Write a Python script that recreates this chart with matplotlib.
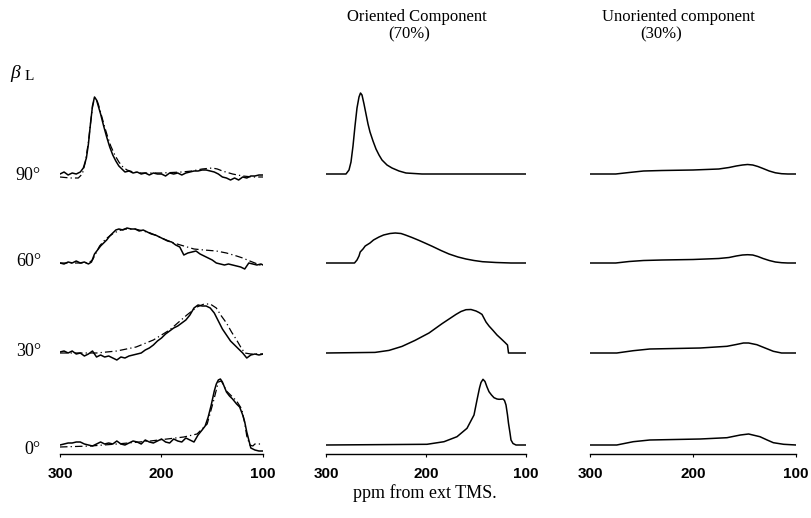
import matplotlib.pyplot as plt

# row labels (tilt angle beta_L)
angles = ["90°", "60°", "30°", "0°"]
tick_vals = [300, 200, 100]

# ---- left column: experimental (solid) and simulated (dash-dot) ----
exp90_ppm = [300, 296, 292, 288, 284, 280, 277, 274, 272, 270, 268, 266, 264, 262, 260,
             257, 254, 251, 248, 245, 242, 239, 236, 232, 228, 224, 220, 216, 212, 208,
             204, 200, 196, 192, 188, 184, 180, 176, 172, 168, 164, 160, 156, 152, 148,
             144, 140, 136, 132, 128, 124, 120, 116, 112, 108, 104, 100]
exp90_h = [0, 2, -1, 1, 0, 2, 6, 16, 30, 50, 68, 77, 74, 67, 60,
           48, 37, 27, 19, 13, 8, 5, 2, 3, 1, 2, 0, 1, -1, 1,
           0, 0, -2, 1, 0, 1, -1, 1, 2, 3, 3, 4, 4, 3, 2,
           0, -3, -4, -6, -4, -6, -3, -4, -2, -2, -1, -1]
sim90_ppm = [300, 290, 282, 278, 275, 272, 270, 268, 266, 264, 262, 259, 256, 253, 250,
             246, 242, 238, 234, 228, 220, 200, 180, 170, 160, 150, 145, 140, 130, 120, 110, 100]
sim90_h = [-3, -4, -4, 0, 12, 32, 50, 67, 76, 75, 69, 58, 47, 37, 28,
           19, 12, 7, 4, 2, 1, 1, 2, 3, 5, 6, 5, 3, 0, -2, -3, -3]

exp60_ppm = [300, 296, 292, 288, 284, 280, 276, 272, 269, 266, 263, 260, 257, 254, 251,
             248, 245, 242, 238, 234, 230, 226, 222, 218, 214, 210, 206, 202, 198, 194,
             190, 186, 182, 178, 174, 170, 166, 162, 158, 154, 150, 146, 142, 138, 134,
             130, 126, 122, 118, 114, 110, 106, 102, 100]
exp60_h = [0, -1, 1, 0, 2, 0, 1, -1, 1, 9, 13, 17, 20, 23, 27,
           30, 33, 34, 33, 35, 34, 34, 32, 33, 31, 29, 28, 26, 24, 22,
           21, 18, 16, 8, 10, 11, 12, 9, 7, 5, 3, 0, -1, -2, -1,
           -2, -3, -4, -6, 0, -1, -2, -1, -2]
sim60_ppm = [300, 280, 272, 268, 265, 261, 255, 247, 240, 236, 226, 218, 211, 200, 188,
             178, 168, 158, 146, 136, 126, 120, 113, 108, 103, 100]
sim60_h = [0, 0, 0, 3, 9, 17, 24, 30, 33, 34, 34, 32, 30, 25, 20,
           17, 14, 13, 12, 10, 7, 5, 2, 0, -2, -2]

exp30_ppm = [300, 296, 292, 288, 284, 280, 276, 272, 268, 264, 260, 256, 252, 248, 244,
             240, 236, 232, 228, 224, 220, 216, 212, 208, 204, 200, 196, 192, 188, 184,
             180, 176, 172, 168, 164, 160, 156, 152, 148, 144, 140, 136, 132, 128, 124,
             120, 116, 112, 108, 104, 100]
exp30_h = [1, 2, 0, 2, -1, 0, -3, -1, 2, -4, -2, -4, -3, -5, -7,
           -4, -5, -3, -2, -1, 0, 3, 5, 8, 12, 15, 19, 22, 25, 27,
           30, 33, 38, 45, 48, 47, 47, 45, 40, 32, 24, 18, 12, 8, 4,
           0, -5, -2, -1, -2, -1]
sim30_ppm = [300, 280, 264, 244, 225, 208, 192, 175, 165, 158, 152, 146, 141, 136, 131,
             126, 122, 118, 112, 106, 100]
sim30_h = [0, 0, 0, 2, 6, 13, 23, 38, 46, 49, 49, 45, 37, 30, 21,
           13, 6, 0, -1, -1, -1]

exp0_ppm = [300, 296, 292, 288, 284, 280, 276, 272, 268, 264, 260, 256, 252, 248, 244,
            240, 236, 232, 228, 224, 220, 216, 212, 208, 204, 200, 196, 192, 188, 184,
            180, 176, 172, 168, 164, 160, 157, 154, 151, 148, 146, 144, 142, 140, 138,
            136, 133, 130, 126, 123, 120, 118, 116, 114, 112, 108, 104, 100]
exp0_h = [0, 1, 2, 2, 3, 3, 1, 0, -1, 1, 3, 1, 2, 1, 4,
          1, 0, 2, 4, 3, 1, 5, 3, 2, 4, 6, 3, 2, 6, 4,
          3, 7, 5, 3, 10, 15, 19, 28, 40, 54, 61, 65, 66, 63, 58,
          53, 49, 46, 41, 38, 30, 23, 13, 5, -3, -5, -6, -6]
sim0_ppm = [300, 270, 244, 211, 178, 165, 155, 149, 144, 141, 136, 131, 126, 121, 118,
            116, 113, 110, 108, 104, 100]
sim0_h = [-2, -1, 1, 4, 8, 11, 21, 43, 63, 64, 54, 49, 44, 36, 22,
          9, 0, -1, 1, 1, 1]

# ---- middle column: oriented component (70%) ----
ori90_ppm = [300, 280, 277, 275, 273, 271, 269, 267, 265.5, 264, 262, 260, 258, 256, 253,
             250, 247, 244, 239, 234, 227, 220, 212, 204, 100]
ori90_h = [0, 0, 4, 12, 28, 48, 66, 77, 81, 79, 70, 60, 50, 42, 33,
           25, 19, 14, 9, 6, 3, 1, 0.5, 0, 0]
ori60_ppm = [300, 271.5, 269, 267, 265.8, 263, 260.8, 256, 252.5, 247, 242.4, 236, 230.7, 225,
             220.6, 214, 207, 200, 193.8, 185, 177, 168, 160, 152, 143.5, 130, 115, 100]
ori60_h = [0, 0, 3, 7, 11, 14, 17, 20, 23, 26, 28, 29.5, 30, 29.5,
           28, 25.5, 22.6, 19.5, 16.7, 12.5, 9, 6, 4, 2.5, 1.3, 0.5, 0, 0]
ori30_ppm = [300, 251, 237, 224, 211, 197, 184, 170, 165, 160, 155, 150, 147, 144, 140,
             137, 133, 129, 125, 121, 118.5, 117.5, 100]
ori30_h = [0, 0.6, 2.6, 6.6, 12.6, 20, 29.3, 38.6, 41.5, 43.3, 43.5, 42, 40.5, 38.6, 31,
           27, 22.6, 18, 14.3, 10.5, 8, 0, 0]
ori0_ppm = [300, 199, 182, 169, 159, 152, 149, 146.5, 145, 143, 141, 139, 137, 134.5, 132,
            129, 127, 125, 123, 121.5, 120, 118.5, 117.5, 116, 115, 113, 110, 100]
ori0_h = [0, 0.7, 3.3, 8.3, 16.7, 30, 45, 57, 62.5, 65.7, 63.5, 58, 53.3, 50, 47.3,
          46, 45.7, 45.8, 46, 44.5, 40, 30, 21.7, 12, 5, 1.5, 0, 0]

# ---- right column: unoriented component (30%) ----
uno_ppm = [300, 275, 262, 248, 230, 200, 175, 165, 158, 152, 147, 142, 137, 132, 126,
           120, 114, 108, 100]
uno90_h = [0, 0, 1.5, 3, 3.5, 4, 5, 6.5, 8, 9, 9.5, 9, 7.5, 5.5, 3, 1.2, 0.3, 0, 0]
uno60_h = [0, 0, 1.5, 2.5, 3, 3.5, 4.5, 5.5, 7, 8, 8.3, 8, 6.5, 4.5, 2.5, 1, 0.3, 0, 0]
uno30_ppm = [300, 274, 258, 242, 193, 167, 158, 151, 146, 138, 130, 122, 114, 100]
uno30_h = [0, 0, 2.3, 4, 5, 6.7, 8.5, 10, 10, 8.3, 5, 1.7, 0, 0]
uno0_ppm = [300, 274, 258, 242, 193, 167, 154, 146, 135, 128, 122, 112, 100]
uno0_h = [0, 0, 3.3, 5, 6, 7.3, 10, 11, 8.3, 5, 2.3, 0.7, 0]

W, H = 812, 518
fig = plt.figure(figsize=(W / 100, H / 100), dpi=100)

axis_y, top_y = 454, 40
offsets = [280, 191, 101, 9]  # baseline of each row above the axis line
serif = "Liberation Serif"


def col_axes(x0, x1):
    ax = fig.add_axes([x0 / W, 1 - axis_y / H, (x1 - x0) / W, (axis_y - top_y) / H])
    ax.set_xlim(300, 100)
    ax.set_ylim(0, axis_y - top_y)
    for s in ["top", "left", "right"]:
        ax.spines[s].set_visible(False)
    ax.spines["bottom"].set_linewidth(1.0)
    ax.set_yticks([])
    ax.set_xticks(tick_vals)
    ax.set_xticklabels([str(t) for t in tick_vals], fontfamily="Liberation Sans",
                       fontweight="bold", fontsize=11)
    ax.tick_params(axis="x", length=2, width=0.8, pad=7)
    ax.patch.set_alpha(0)
    return ax


ax_l = col_axes(60, 263)
ax_m = col_axes(326, 526)
ax_r = col_axes(590, 796)

exp_rows = [(exp90_ppm, exp90_h), (exp60_ppm, exp60_h), (exp30_ppm, exp30_h), (exp0_ppm, exp0_h)]
sim_rows = [(sim90_ppm, sim90_h), (sim60_ppm, sim60_h), (sim30_ppm, sim30_h), (sim0_ppm, sim0_h)]
ori_rows = [(ori90_ppm, ori90_h), (ori60_ppm, ori60_h), (ori30_ppm, ori30_h), (ori0_ppm, ori0_h)]
uno_rows = [(uno_ppm, uno90_h), (uno_ppm, uno60_h), (uno30_ppm, uno30_h), (uno0_ppm, uno0_h)]

for i, off in enumerate(offsets):
    p, h = exp_rows[i]
    ax_l.plot(p, [v + off for v in h], color="black", lw=1.1)
    p, h = sim_rows[i]
    ax_l.plot(p, [v + off for v in h], color="black", lw=0.9, linestyle=(0, (6, 2.5, 1, 2.5)))
    p, h = ori_rows[i]
    ax_m.plot(p, [v + off for v in h], color="black", lw=1.1)
    p, h = uno_rows[i]
    ax_r.plot(p, [v + off for v in h], color="black", lw=1.1)

# row labels
for lab, yp in zip(angles, [175, 262, 352, 449]):
    fig.text(41 / W, 1 - yp / H, lab, ha="right", va="center", fontsize=13, fontfamily=serif)

fig.text(10 / W, 1 - 73 / H, "β", ha="left", va="center", fontsize=14,
         fontfamily=serif, style="italic")
fig.text(25 / W, 1 - 76 / H, "L", ha="left", va="center", fontsize=11, fontfamily=serif)

# column titles (two lines each)
fig.text(417 / W, 1 - 17 / H, "Oriented Component", ha="center", va="center",
         fontsize=12, fontfamily=serif)
fig.text(409 / W, 1 - 34 / H, "(70%)", ha="center", va="center", fontsize=12, fontfamily=serif)
fig.text(678 / W, 1 - 17 / H, "Unoriented component", ha="center", va="center",
         fontsize=12, fontfamily=serif)
fig.text(661 / W, 1 - 34 / H, "(30%)", ha="center", va="center", fontsize=12, fontfamily=serif)

fig.text(425 / W, 1 - 493 / H, "ppm from ext TMS.", ha="center", va="center",
         fontsize=13, fontfamily=serif)

fig.savefig("out.png", dpi=100)
